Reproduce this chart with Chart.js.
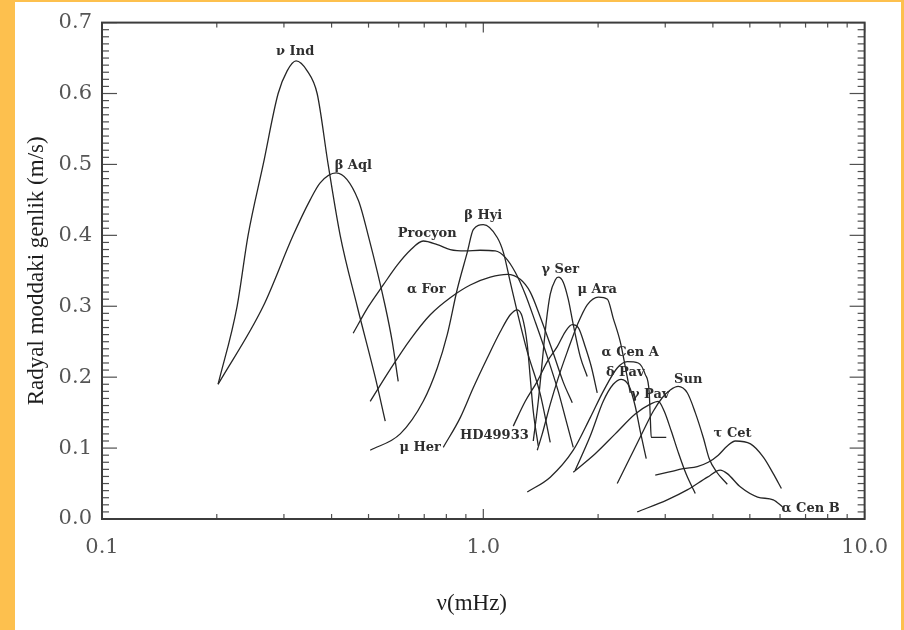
<!DOCTYPE html>
<html>
<head>
<meta charset="utf-8">
<script src="https://cdn.jsdelivr.net/npm/chart.js@4.4.1/dist/chart.umd.min.js"></script>
<style>
  html, body { margin: 0; padding: 0; background: #fdc04e; }
  #wrap { position: relative; width: 904px; height: 630px; overflow: hidden; }
  #paper { position: absolute; left: 15px; top: 2px; width: 886px; height: 628px; background: #ffffff; }
  #chart { position: absolute; left: 0; top: 0; }
</style>
</head>
<body>
<div id="wrap">
  <div id="paper"></div>
  <canvas id="chart" width="904" height="630"></canvas>
</div>
<script>
// Smoothed oscillation amplitude envelopes: [frequency (mHz), amplitude (m/s)]
const nuInd = [[0.2016,0.190],[0.2261,0.300],[0.2416,0.400],[0.2647,0.500],[0.2897,0.600],[0.3059,0.632],[0.3228,0.646],[0.3452,0.632],[0.3666,0.600],[0.3918,0.500],[0.4213,0.400],[0.4669,0.300],[0.5206,0.200],[0.5531,0.138]];
const betaAql = [[0.2016,0.190],[0.2647,0.300],[0.3172,0.400],[0.3515,0.450],[0.3734,0.474],[0.4113,0.488],[0.4698,0.450],[0.4990,0.400],[0.5531,0.300],[0.5770,0.250],[0.5982,0.194]];
const procyon = [[0.4558,0.262],[0.4990,0.299],[0.5464,0.330],[0.5946,0.358],[0.6432,0.379],[0.6958,0.392],[0.7572,0.387],[0.8191,0.380],[0.8967,0.378],[0.9818,0.379],[1.0747,0.378],[1.1416,0.369],[1.2128,0.348],[1.2883,0.317],[1.3685,0.278],[1.4714,0.229],[1.5723,0.180],[1.6500,0.138],[1.7215,0.101]];
const alphaFor = [[0.5051,0.166],[0.5700,0.211],[0.6432,0.253],[0.7259,0.288],[0.8191,0.312],[0.9243,0.330],[1.0429,0.341],[1.1555,0.345],[1.2500,0.338],[1.3278,0.320],[1.4104,0.285],[1.5255,0.234],[1.6204,0.193],[1.7111,0.164]];
const betaHyi = [[0.5051,0.097],[0.6055,0.120],[0.6958,0.166],[0.7572,0.213],[0.8043,0.260],[0.8544,0.324],[0.9076,0.376],[0.9412,0.408],[0.9998,0.415],[1.0878,0.397],[1.1288,0.376],[1.1768,0.334],[1.2275,0.292],[1.3040,0.236],[1.4104,0.176],[1.4982,0.108]];
const muHer = [[0.7852,0.101],[0.8701,0.143],[0.9412,0.185],[1.0242,0.227],[1.1078,0.264],[1.1768,0.288],[1.2275,0.295],[1.2652,0.285],[1.3040,0.246],[1.3278,0.199],[1.3521,0.152],[1.3936,0.103]];
const hd49933 = [[1.1983,0.131],[1.2883,0.166],[1.3852,0.194],[1.4714,0.222],[1.5628,0.243],[1.6401,0.264],[1.7111,0.274],[1.7742,0.270],[1.8504,0.243],[1.9191,0.215],[1.9895,0.178]];
const gammaSer = [[1.3521,0.110],[1.3936,0.166],[1.4275,0.222],[1.4625,0.278],[1.4982,0.317],[1.5441,0.337],[1.5723,0.341],[1.6204,0.334],[1.6700,0.310],[1.7215,0.274],[1.7956,0.229],[1.8729,0.201]];
const muAra = [[1.3852,0.097],[1.4275,0.120],[1.4982,0.162],[1.5723,0.199],[1.661,0.236],[1.765,0.274],[1.8729,0.302],[2.004,0.313],[2.116,0.310],[2.1916,0.283],[2.2861,0.250],[2.3561,0.215],[2.4282,0.178]];
const alphaCenA = [[1.3040,0.038],[1.4982,0.059],[1.7215,0.097],[1.9075,0.143],[2.0631,0.180],[2.2451,0.213],[2.3846,0.222],[2.5484,0.220],[2.6584,0.204],[2.7236,0.178],[2.7401,0.145],[2.7567,0.115],[3.0185,0.115]];
const deltaPav = [[1.7424,0.069],[1.9075,0.117],[2.0631,0.166],[2.1916,0.190],[2.2999,0.197],[2.4136,0.187],[2.5027,0.159],[2.5795,0.124],[2.6746,0.085]];
const gammaPav = [[1.7215,0.066],[1.9657,0.092],[2.2182,0.120],[2.5027,0.148],[2.7401,0.162],[2.8759,0.166],[2.9822,0.152],[3.1112,0.124],[3.2452,0.094],[3.4058,0.063],[3.5963,0.036]];
const sun = [[2.2451,0.050],[2.4282,0.087],[2.6265,0.124],[2.7903,0.152],[2.9464,0.171],[3.0924,0.182],[3.2452,0.187],[3.4264,0.178],[3.5963,0.150],[3.7742,0.115],[3.9134,0.085],[4.0824,0.067],[4.3636,0.049]];
const tauCet = [[2.8242,0.062],[3.0552,0.066],[3.3446,0.071],[3.6400,0.074],[3.8898,0.080],[4.1321,0.090],[4.3636,0.103],[4.5809,0.110],[5.02,0.106],[5.43,0.087],[5.76,0.064],[6.05,0.043]];
const alphaCenB = [[2.5330,0.010],[3.0368,0.027],[3.4264,0.041],[3.871,0.059],[4.1824,0.069],[4.3636,0.064],[4.727,0.045],[5.239,0.031],[5.76,0.027],[6.093,0.017]];

const starNames = ['ν Ind','β Aql','Procyon','α For','β Hyi','μ Her','HD49933','γ Ser','μ Ara','α Cen A','δ Pav','γ Pav','Sun','τ Cet','α Cen B'];
const starCurves = [nuInd, betaAql, procyon, alphaFor, betaHyi, muHer, hd49933, gammaSer, muAra, alphaCenA, deltaPav, gammaPav, sun, tauCet, alphaCenB];

// Star name annotations, anchored in data units
const labelTexts = ['ν Ind','β Aql','Procyon','α For','β Hyi','μ Her','HD49933','γ Ser','μ Ara','α Cen A','δ Pav','γ Pav','Sun','τ Cet','α Cen B'];
const labelFreqs = [0.321, 0.456, 0.713, 0.709, 1.0, 0.683, 1.069, 1.591, 1.99, 2.428, 2.356, 2.740, 3.446, 4.505, 7.216];
const labelAmps  = [0.659, 0.499, 0.403, 0.324, 0.428, 0.101, 0.117, 0.351, 0.324, 0.234, 0.206, 0.176, 0.197, 0.120, 0.015];

// Axis ticks
const xTickValues = [0.1, 1, 10];
const xTickLabels = ['0.1', '1.0', '10.0'];
const xMinorValues = [0.2,0.3,0.4,0.5,0.6,0.7,0.8,0.9,2,3,4,5,6,7,8,9];
const yTickValues = [0, 0.1, 0.2, 0.3, 0.4, 0.5, 0.6, 0.7];
const yTickLabels = ['0.0','0.1','0.2','0.3','0.4','0.5','0.6','0.7'];

const tickFont = { family: "'DejaVu Serif', serif", size: 21 };
const tickColor = '#555555';

// Box frame with inward-pointing tick marks on all four sides
const frameTicks = {
  id: 'frameTicks',
  afterDatasetsDraw(chart) {
    const { ctx, chartArea: a, scales: { x, y } } = chart;
    ctx.save();
    ctx.strokeStyle = '#505050';
    ctx.lineWidth = 1.2;
    const seg = (x1, y1, x2, y2) => { ctx.beginPath(); ctx.moveTo(x1, y1); ctx.lineTo(x2, y2); ctx.stroke(); };
    for (let i = 0; i <= 70; i++) {
      const py = y.getPixelForValue(i / 100);
      const len = (i % 10 === 0) ? 15 : 7;
      seg(a.left, py, a.left + len, py);
      seg(a.right, py, a.right - len, py);
    }
    xMinorValues.forEach(v => {
      const px = x.getPixelForValue(v);
      seg(px, a.bottom, px, a.bottom - 5);
      seg(px, a.top, px, a.top + 5);
    });
    xTickValues.forEach(v => {
      const px = x.getPixelForValue(v);
      seg(px, a.bottom, px, a.bottom - 10);
      seg(px, a.top, px, a.top + 10);
    });
    ctx.strokeStyle = '#3c3c3c';
    ctx.lineWidth = 2;
    ctx.strokeRect(a.left, a.top, a.right - a.left, a.bottom - a.top);
    ctx.restore();
  }
};

const starLabels = {
  id: 'starLabels',
  afterDatasetsDraw(chart) {
    const { ctx, scales: { x, y } } = chart;
    ctx.save();
    ctx.font = "bold 13px 'DejaVu Serif', serif";
    ctx.fillStyle = '#2e2e2e';
    ctx.textAlign = 'center';
    ctx.textBaseline = 'middle';
    labelTexts.forEach((t, i) => {
      ctx.fillText(t, x.getPixelForValue(labelFreqs[i]), y.getPixelForValue(labelAmps[i]));
    });
    ctx.restore();
  }
};

const datasets = starCurves.map((curve, i) => ({
  label: starNames[i],
  data: curve.map(([f, a]) => ({ x: f, y: a })),
  showLine: true,
  pointRadius: 0,
  borderColor: '#262626',
  borderWidth: 1.3,
  cubicInterpolationMode: 'monotone',
  fill: false
}));

new Chart(document.getElementById('chart'), {
  type: 'scatter',
  data: { datasets },
  options: {
    responsive: false,
    animation: false,
    layout: { padding: { top: 19, right: 39, left: 0, bottom: 0 } },
    plugins: { legend: { display: false }, tooltip: { enabled: false } },
    scales: {
      x: {
        type: 'logarithmic',
        min: 0.1,
        max: 10,
        grid: { display: false, drawTicks: false },
        border: { display: false },
        afterBuildTicks: (axis) => { axis.ticks = xTickValues.map(v => ({ value: v })); },
        afterFit: (axis) => { axis.height = 111; },
        ticks: {
          autoSkip: false,
          maxRotation: 0,
          padding: 16,
          font: tickFont,
          color: tickColor,
          callback: (v, i) => xTickLabels[i]
        },
        title: {
          display: true,
          text: 'ν(mHz)\u2002\u2002',
          font: { family: "'Liberation Serif', serif", size: 23 },
          color: '#1e1e1e',
          padding: { top: 0, bottom: 12 }
        }
      },
      y: {
        min: 0,
        max: 0.7,
        grid: { display: false, drawTicks: false },
        border: { display: false },
        afterBuildTicks: (axis) => { axis.ticks = yTickValues.map(v => ({ value: v })); },
        afterFit: (axis) => { axis.width = 102; },
        ticks: {
          padding: 10,
          font: tickFont,
          color: tickColor,
          callback: (v, i) => yTickLabels[i]
        },
        title: {
          display: true,
          text: 'Radyal moddaki genlik (m/s)',
          font: { family: "'Liberation Serif', serif", size: 23 },
          color: '#1e1e1e',
          padding: { top: 23, bottom: 0 }
        }
      }
    }
  },
  plugins: [frameTicks, starLabels]
});
</script>
</body>
</html>
